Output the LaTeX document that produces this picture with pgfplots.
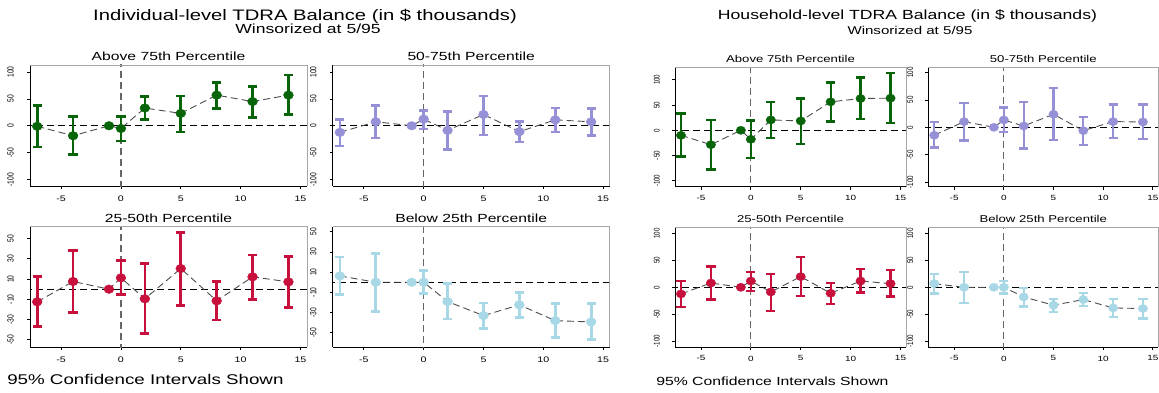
\documentclass[border=0pt]{standalone}
\usepackage{pgfplots}
\pgfplotsset{compat=1.18}
\usepackage{pgfplotstable}
\usepackage{fontspec}
\setmainfont{Liberation Sans}
\newcommand\fs[1]{\fontsize{#1}{#1}\selectfont}
\definecolor{cgreen}{RGB}{8,100,8}
\definecolor{cpurple}{RGB}{150,145,215}
\definecolor{cred}{RGB}{200,16,60}
\definecolor{cblue}{RGB}{168,216,230}

% x  y  lo  hi
\pgfplotstableread{
x y lo hi
-7 -1 -39.5 38
-4 -18.5 -54 16.7
-1 0 0 0
0 -5 -28.4 16.7
2 33 11.7 55
5 23 -11.7 55.5
8 57 32 81
11 45 15.4 73.5
14 57 21.6 94.4
}\IA
\pgfplotstableread{
x y lo hi
-7 -12.3 -37.7 11.7
-4 7.4 -22.8 38.3
-1 0 0 0
0 12.3 -6.2 28.4
2 -8.6 -43.8 26
5 21 -17.3 55.5
8 -11 -30 8
11 11 -11.7 33.3
14 7.4 -18 31.5
}\IB
\pgfplotstableread{
x y lo hi
-7 -12.5 -36.8 12.2
-4 7.6 -22.7 38.5
-1 0 0 0
0 11.2 -5.6 28
2 -9.5 -44 25.7
5 20.4 -16.1 56.3
8 -11.5 -30.3 7.6
11 12.2 -10.5 33.9
14 7.2 -17.8 32.2
}\IC
\pgfplotstableread{
x y lo hi
-7 6.3 -11.9 25
-4 0 -29 28.4
-1 0 0 0
0 0 -11.2 11.9
2 -19.1 -36.3 -1.3
5 -33 -45.5 -20.5
8 -22.4 -35 -9.9
11 -38 -54.8 -21.1
14 -39.3 -56.8 -21.1
}\ID
\pgfplotstableread{
x y lo hi
-7 -10 -51.7 33
-4 -28.5 -77.5 20.5
-1 0 0 0
0 -17.9 -54.3 19.2
2 20.5 -14.6 55.6
5 18.5 -27.2 62.9
8 56.3 17.2 94.7
11 62.9 21.9 104.6
14 63.6 14.6 113.2
}\HA
\pgfplotstableread{
x y lo hi
-7 -14.6 -37.2 9.8
-4 10.4 -24.4 45
-1 0 0 0
0 13.4 -9.1 36
2 2.4 -39 46.3
5 23.8 -23.2 71.3
8 -6.1 -32.3 18.3
11 10.4 -20.1 41.5
14 9.8 -22 41.5
}\HB
\pgfplotstableread{
x y lo hi
-7 -12.3 -36.4 12.3
-4 8 -22.8 38.9
-1 0 0 0
0 11.7 -6.8 27.8
2 -8.6 -43.8 25.3
5 19.8 -16.7 56.2
8 -11.1 -30.9 8
11 11.7 -9.9 34
14 6.8 -17.3 32
}\HC
\pgfplotstableread{
x y lo hi
-7 6.8 -11.7 24.7
-4 0 -29 28.4
-1 0 0 0
0 0 -11.7 11.1
2 -17.9 -35.8 -1.9
5 -33.3 -46.3 -21.6
8 -22.8 -35.2 -10.5
11 -38.3 -55.6 -21.6
14 -39.5 -58 -21.6
}\HD

\pgfplotsset{
  sp/.style={scale only axis, xmin=-7.6, xmax=15.55,
    axis x line*=bottom, axis y line*=left,
    axis line style={line width=0.9pt, black},
    tick align=outside, major tick length=3pt,
    tick style={line width=0.7pt, black},
    xtick={-5,0,5,10,15}, xticklabels={-5,0,5,10,15},
    yticklabel style={rotate=90, anchor=south, yscale=1.33},
    xticklabel style={xscale=1.33},
    every axis title/.style={at={(0.5,1)}, anchor=base, yshift=4.6pt, xscale=1.33},
    after end axis/.code={\draw[black!35, line width=0.9pt] (rel axis cs:0,1) -- (rel axis cs:1,1) -- (rel axis cs:1,0);},
  },
  ind/.style={sp, width=277pt, height=121pt,
    title style={font=\fs{11.8}},
    xticklabel style={font=\fs{8}}, yticklabel style={font=\fs{6.7}},
    yticklabel shift=8.5pt, xticklabel shift=3.5pt},
  hh/.style={sp, width=231pt, height=119.4pt,
    title style={font=\fs{9.9}},
    xticklabel style={font=\fs{7.5}}, yticklabel style={font=\fs{6.2}},
    yticklabel shift=7.5pt, xticklabel shift=2pt},
  yA/.style={ytick={-100,-50,0,50,100}, yticklabels={-100,-50,0,50,100}},
  yB/.style={ytick={-50,-30,-10,10,30,50}, yticklabels={-50,-30,-10,10,30,50}},
}

\newcommand\panel[4]{%
  \addplot[black, line width=0.9pt, dash pattern=on 7pt off 4pt] coordinates {(-8,0) (16,0)};
  \addplot[black!60, line width=1.2pt, dash pattern=on 7pt off 4pt] coordinates {(0,-300) (0,300)};
  \addplot[only marks, mark=none, skip coords between index={2}{3},
    error bars/.cd, y dir=both, y explicit,
    error bar style={line width=#3, draw=#2},
    error mark options={rotate=90, mark size=4.6pt, line width=#3, draw=#2}]
    table[x=x, y=y, y error plus expr=\thisrow{hi}-\thisrow{y}, y error minus expr=\thisrow{y}-\thisrow{lo}] {#1};
  \addplot[no marks, black!70, line width=0.9pt, dash pattern=on 7pt off 4pt] table[x=x, y=y] {#1};
  \addplot[only marks, mark=*, mark size=#4, color=#2, mark options={xscale=1.15}] table[x=x, y=y] {#1};
}

\begin{document}
\begin{tikzpicture}
\path[use as bounding box] (0,0) rectangle (1159pt,392pt);

% Individual panel
\begin{axis}[ind, yA, at={(30pt,206pt)}, anchor=south west, ymin=-112, ymax=113, title={Above 75th Percentile}]
\panel{\IA}{cgreen}{2.7pt}{4.3pt}
\end{axis}
\begin{axis}[ind, yA, at={(332.7pt,206pt)}, anchor=south west, ymin=-112, ymax=113, title={50-75th Percentile}]
\panel{\IB}{cpurple}{2.7pt}{4.3pt}
\end{axis}
\begin{axis}[ind, yB, at={(30pt,44.7pt)}, anchor=south west, height=120.6pt, ymin=-57.4, ymax=61.7, title={25-50th Percentile}]
\panel{\IC}{cred}{2.7pt}{4.3pt}
\end{axis}
\begin{axis}[ind, yB, at={(332.7pt,44.7pt)}, anchor=south west, height=120.6pt, ymin=-64.4, ymax=55, title={Below 25th Percentile}]
\panel{\ID}{cblue}{2.7pt}{4.3pt}
\end{axis}

% Household panel
\begin{axis}[hh, yA, at={(675pt,205.3pt)}, anchor=south west, ymin=-111.7, ymax=124.7, title={Above 75th Percentile}]
\panel{\HA}{cgreen}{2.3pt}{4.1pt}
\end{axis}
\begin{axis}[hh, yA, at={(928.3pt,205.3pt)}, anchor=south west, width=230pt, ymin=-108.6, ymax=109.7, title={50-75th Percentile}]
\panel{\HB}{cpurple}{2.3pt}{4.1pt}
\end{axis}
\begin{axis}[hh, yA, at={(675pt,44.7pt)}, anchor=south west, height=120pt, ymin=-111.5, ymax=111.5, title={25-50th Percentile}]
\panel{\HC}{cred}{2.3pt}{4.1pt}
\end{axis}
\begin{axis}[hh, yA, at={(928.3pt,44.7pt)}, anchor=south west, width=230pt, height=120pt, ymin=-111.5, ymax=111.5, title={Below 25th Percentile}]
\panel{\HD}{cblue}{2.3pt}{4.1pt}
\end{axis}

% Titles
\node[anchor=base, font=\fs{15.2}, xscale=1.33] at (305pt,371.3pt) {Individual-level TDRA Balance (in \$ thousands)};
\node[anchor=base, font=\fs{13.2}, xscale=1.33] at (308pt,358.5pt) {Winsorized at 5/95};
\node[anchor=base west, font=\fs{14.1}, xscale=1.33, inner sep=0pt] at (7pt,7.7pt) {95\% Confidence Intervals Shown};

\node[anchor=base, font=\fs{13.25}, xscale=1.33] at (907.5pt,372pt) {Household-level TDRA Balance (in \$ thousands)};
\node[anchor=base, font=\fs{11.35}, xscale=1.33] at (910pt,357pt) {Winsorized at 5/95};
\node[anchor=base west, font=\fs{11.85}, xscale=1.33, inner sep=0pt] at (656pt,6.3pt) {95\% Confidence Intervals Shown};
\end{tikzpicture}
\end{document}
